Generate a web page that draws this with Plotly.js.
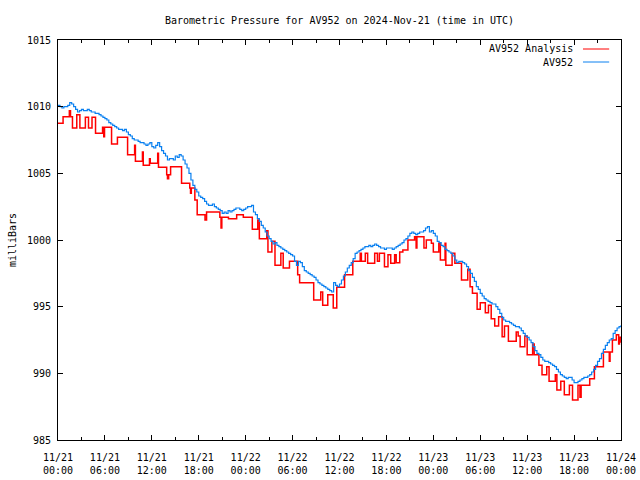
<!DOCTYPE html>
<html>
<head>
<meta charset="utf-8">
<script src="https://cdn.plot.ly/plotly-3.0.1.min.js"></script>
<style>html,body{margin:0;padding:0;background:#fff;}#chart{width:640px;height:480px;}</style>
</head>
<body>
<div id="chart"></div>
<script>
// ---- data (hours since 2024-11-21 00:00 UTC, pressure in millibars) ----
const STEP_HOURS = 0.25;
const av952Pressure = [
  1010.1, 1010.0, 1009.9, 1010.0, 1010.0, 1010.1, 1010.3, 1010.2, 1010.0, 1009.8, 1009.6, 1009.7,
  1009.8, 1009.7, 1009.7, 1009.8, 1009.7, 1009.6, 1009.6, 1009.5, 1009.5, 1009.4, 1009.3, 1009.2,
  1009.1, 1009.0, 1008.8, 1008.7, 1008.6, 1008.5, 1008.4, 1008.3, 1008.3, 1008.2, 1008.3, 1008.1,
  1007.9, 1007.8, 1007.6, 1007.5, 1007.5, 1007.4, 1007.3, 1007.3, 1007.2, 1007.1, 1007.2, 1007.3,
  1007.0, 1006.9, 1007.1, 1007.3, 1007.0, 1006.7, 1006.5, 1006.3, 1006.0, 1006.1, 1006.1, 1006.0,
  1006.3, 1006.2, 1006.4, 1006.3, 1006.0, 1005.7, 1005.4, 1005.0, 1004.5, 1004.1, 1003.8, 1003.6,
  1003.3, 1003.2, 1003.1, 1002.9, 1002.7, 1002.6, 1002.6, 1002.7, 1002.5, 1002.4, 1002.3, 1002.2,
  1002.0, 1002.1, 1002.0, 1002.2, 1002.1, 1002.2, 1002.3, 1002.4, 1002.4, 1002.3, 1002.2, 1002.3,
  1002.4, 1002.5, 1002.5, 1002.6, 1002.1, 1001.9, 1001.6, 1001.4, 1001.1, 1000.9, 1000.6, 1000.3,
  1000.1, 999.9, 999.7, 999.8, 999.6, 999.5, 999.4, 999.3, 999.2, 999.1, 999.0, 998.9,
  998.8, 998.4, 998.1, 998.4, 998.3, 998.0, 997.7, 997.6, 997.5, 997.4, 997.3, 997.2,
  997.0, 996.8, 996.7, 996.6, 996.5, 996.4, 996.3, 996.2, 996.1, 996.8, 996.6, 996.5,
  996.7, 997.0, 997.3, 997.6, 997.9, 998.1, 998.3, 998.6, 999.0, 999.1, 999.2, 999.3,
  999.4, 999.5, 999.5, 999.6, 999.5, 999.6, 999.7, 999.6, 999.5, 999.4, 999.4, 999.3,
  999.4, 999.4, 999.4, 999.3, 999.4, 999.5, 999.6, 999.7, 999.8, 1000.0, 1000.1, 1000.3,
  1000.5, 1000.6, 1000.5, 1000.4, 1000.5, 1000.6, 1000.6, 1000.7, 1000.9, 1001.0, 1000.6, 1000.7,
  1000.5, 1000.3, 999.9, 999.8, 999.6, 999.5, 999.3, 999.2, 999.1, 999.0, 998.8, 998.5,
  998.3, 998.4, 998.4, 998.3, 998.2, 998.0, 997.7, 997.5, 997.2, 996.9, 996.5, 996.3,
  996.0, 995.8, 995.6, 995.5, 995.4, 995.3, 995.2, 995.2, 995.0, 994.8, 994.5, 994.2,
  994.0, 993.9, 993.9, 993.8, 993.7, 993.6, 993.5, 993.5, 993.4, 993.2, 993.0, 992.8,
  992.7, 992.5, 992.3, 992.0, 991.7, 991.5, 991.4, 991.2, 991.0, 990.9, 990.9, 990.8,
  990.7, 990.6, 990.5, 990.3, 990.1, 989.9, 989.8, 989.7, 989.6, 989.7, 989.7, 989.5,
  989.3, 989.3, 989.4, 989.5, 989.6, 989.7, 989.7, 989.8, 989.9, 990.1, 990.3, 990.6,
  990.9, 991.1, 991.5, 991.8, 992.1, 992.3, 992.5, 992.6, 993.0, 993.2, 993.4, 993.5,
  993.6
];
const av952Hours = av952Pressure.map((_, i) => i * STEP_HOURS);

const analysisHours = [
  0.0, 0.65, 1.45, 1.6, 1.85, 2.4, 2.8, 3.5, 3.9, 4.35, 4.8, 5.7, 5.85, 5.95, 6.85, 7.6, 8.9, 9.8, 9.9, 10.8,
  10.9, 11.7, 11.8, 12.75, 12.85, 13.9, 14.0, 14.15, 14.4, 15.8, 16.85, 16.95, 17.05, 17.5, 17.8, 18.8, 19.0,
  20.7, 20.85, 20.95, 21.8, 22.85, 23.7, 24.85, 25.55, 25.75, 26.7, 26.85, 27.35, 27.75, 28.5, 28.8, 29.6,
  30.65, 30.9, 32.7, 33.6, 33.85, 34.5, 35.2, 35.65, 36.65, 37.7, 38.65, 38.8, 39.3, 39.6, 40.5, 40.85,
  41.1, 41.75, 42.2, 42.55, 43.05, 43.25, 43.7, 44.1, 44.75, 45.6, 45.8, 45.9, 46.8, 47.1, 47.75, 48.0,
  48.7, 48.9, 49.5, 49.6, 50.4, 50.75, 51.6, 52.4, 52.7, 53.0, 53.6, 54.0, 54.65, 55.05, 55.4, 55.85,
  56.35, 56.8, 57.1, 57.6, 58.6, 58.85, 59.1, 59.7, 60.0, 60.7, 60.9, 61.5, 61.9, 62.5, 62.8, 63.6, 63.8,
  64.3, 64.75, 65.4, 65.8, 66.5, 66.75, 66.9, 68.0, 68.6, 69.75, 70.5, 70.6, 70.9, 71.4, 71.7, 71.8, 72.0
];
const analysisPressure = [
  1008.75, 1009.25, 1009.7, 1009.25, 1008.4, 1009.4, 1008.4, 1009.2, 1008.4, 1009.2, 1008.0, 1008.45, 1007.75, 1008.45, 1007.2, 1007.7, 1006.4, 1007.1, 1005.9, 1006.6,
  1005.6, 1006.1, 1005.75, 1006.5, 1005.45, 1004.9, 1004.6, 1004.9, 1005.5, 1004.25, 1003.9, 1003.5, 1003.9, 1003.0, 1001.9, 1001.5, 1002.1,
  1001.7, 1000.9, 1001.7, 1001.6, 1001.9, 1001.7, 1000.8, 1001.5, 1000.1, 1000.7, 999.1, 999.9, 998.1, 999.0, 997.9, 998.4,
  997.4, 996.8, 995.5, 996.1, 995.1, 995.9, 994.9, 996.45, 997.4, 998.4, 999.0, 998.4, 999.0, 998.25, 999.0, 998.4,
  999.0, 998.0, 998.9, 998.25, 998.9, 998.3, 999.1, 999.25, 1000.0, 1000.25, 999.4, 1000.25, 999.4, 1000.0, 999.75, 999.1,
  999.75, 998.5, 999.75, 998.1, 999.0, 998.25, 997.0, 997.8, 996.5, 996.0, 994.8, 995.3, 994.55, 995.1, 994.1, 993.55,
  994.25, 992.75, 993.55, 992.4, 993.1, 992.8, 992.0, 992.8, 991.4, 992.2, 991.4, 990.6, 989.9, 990.5, 989.4, 989.9, 988.75,
  989.4, 988.4, 989.1, 988.0, 989.1, 988.2, 989.1, 989.6, 990.5, 991.6, 990.9, 991.6, 992.5, 992.9, 992.2, 992.7, 992.3
];

const xTickHours = [0, 6, 12, 18, 24, 30, 36, 42, 48, 54, 60, 66, 72];
const xTickLabels = [
  '11/21<br>00:00', '11/21<br>06:00', '11/21<br>12:00', '11/21<br>18:00',
  '11/22<br>00:00', '11/22<br>06:00', '11/22<br>12:00', '11/22<br>18:00',
  '11/23<br>00:00', '11/23<br>06:00', '11/23<br>12:00', '11/23<br>18:00',
  '11/24<br>00:00'
];
const yTickValues = [985, 990, 995, 1000, 1005, 1010, 1015];
const seriesNames = ['AV952 Analysis', 'AV952'];
const seriesColors = ['#ff0000', '#0a80f0'];

// ---- chart ----
const FONT = {family: 'DejaVu Sans Mono, Liberation Mono, monospace', size: 10, color: '#000'};

const traces = [
  {x: analysisHours, y: analysisPressure, name: seriesNames[0], type: 'scatter', mode: 'lines',
   line: {color: seriesColors[0], width: 1.5, shape: 'hv'}, showlegend: false, hoverinfo: 'skip'},
  {x: av952Hours, y: av952Pressure, name: seriesNames[1], type: 'scatter', mode: 'lines',
   line: {color: seriesColors[1], width: 1.2, shape: 'hv'}, showlegend: false, hoverinfo: 'skip'}
];

const axisCommon = {
  showline: true, linecolor: '#000', linewidth: 1, mirror: 'ticks',
  ticks: 'inside', ticklen: 5, tickcolor: '#000', tickwidth: 1,
  showgrid: false, zeroline: false, tickfont: FONT
};

const legendY = [0.9775, 0.945];
const annotations = seriesNames.map((n, i) => ({
  text: n, xref: 'paper', yref: 'paper', x: 0.9183, y: legendY[i],
  xanchor: 'right', yanchor: 'middle', showarrow: false, font: FONT
}));
const shapes = seriesNames.map((n, i) => ({
  type: 'line', xref: 'paper', yref: 'paper', x0: 0.9325, x1: 0.979, y0: legendY[i], y1: legendY[i],
  line: {color: seriesColors[i], width: 1}
}));

const layout = {
  width: 640, height: 480,
  margin: {l: 58, r: 19, t: 40, b: 40, pad: 0},
  paper_bgcolor: '#fff', plot_bgcolor: '#fff',
  font: FONT,
  title: {text: 'Barometric Pressure for AV952 on 2024-Nov-21 (time in UTC)', font: FONT,
          x: 0.5, xref: 'paper', xanchor: 'center', y: 1 - 20 / 480, yref: 'container', yanchor: 'middle'},
  xaxis: Object.assign({}, axisCommon, {
    range: [0, 72], tickmode: 'array', tickvals: xTickHours, ticktext: xTickLabels,
    ticklabelstandoff: 8,
    minor: {tickmode: 'linear', tick0: 0, dtick: 3, ticks: 'inside', ticklen: 3, tickcolor: '#000', showgrid: false}
  }),
  yaxis: Object.assign({}, axisCommon, {
    range: [985, 1015], tickmode: 'array', tickvals: yTickValues,
    ticklabelstandoff: 4,
    title: {text: 'milliBars', font: FONT, standoff: 8}
  }),
  annotations: annotations,
  shapes: shapes,
  showlegend: false
};

Plotly.newPlot('chart', traces, layout, {staticPlot: true, displayModeBar: false});
</script>
</body>
</html>
